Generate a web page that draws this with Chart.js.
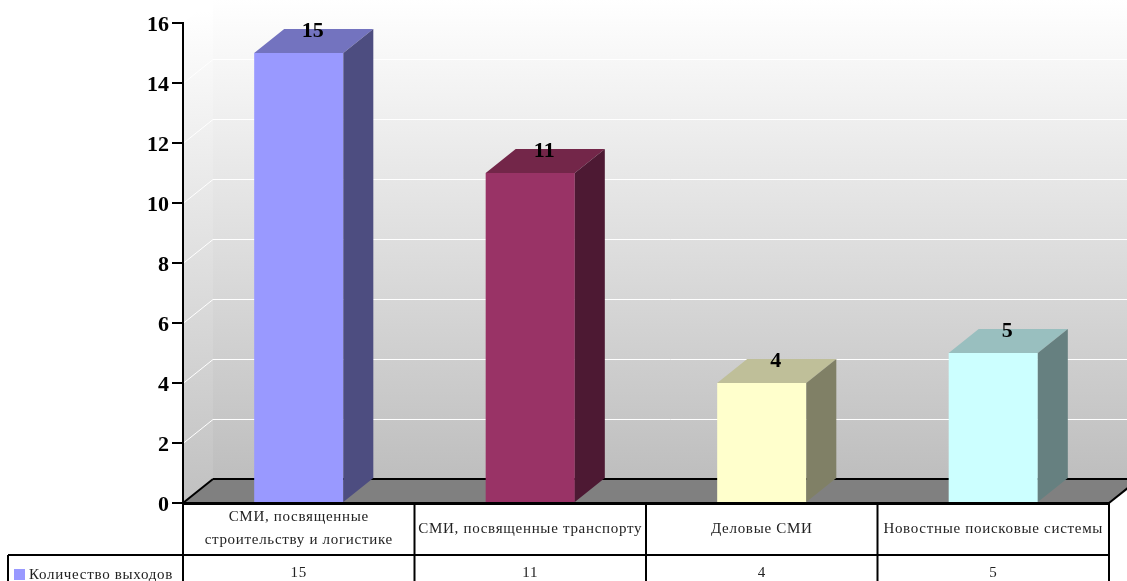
<!DOCTYPE html>
<html>
<head>
<meta charset="utf-8">
<style>
    html, body { margin: 0; padding: 0; background: #fff; overflow: hidden; }
    canvas { display: block; }
</style>
<script src="https://cdn.jsdelivr.net/npm/chart.js@4"></script>
</head>
<body>
<canvas id="mediaChart" width="1127" height="581"></canvas>
<script>
const categories = ['СМИ, посвященные строительству и логистике', 'СМИ, посвященные транспорту', 'Деловые СМИ', 'Новостные поисковые системы'];
const categoryLines = [['СМИ, посвященные', 'строительству и логистике'], ['СМИ, посвященные транспорту'], ['Деловые СМИ'], ['Новостные поисковые системы']];
const seriesName = 'Количество выходов';
const outputs = [15, 11, 4, 5];
const yTicks = [0, 2, 4, 6, 8, 10, 12, 14, 16];

const frontColors = ['#9999FF', '#993366', '#FFFFCC', '#CCFFFF'];
const topColors = ['#7373BF', '#732649', '#BFBF99', '#99BFBF'];
const sideColors = ['#4D4D80', '#4D1933', '#808066', '#668080'];

const DEPTH_X = 30;
const DEPTH_Y = 24;
const TABLE_FONT = '15px "Liberation Serif"';
const BOLD_FONT = 'bold 22px "Liberation Serif"';

function polygon(ctx, points, fill) {
    ctx.beginPath();
    points.forEach((p, i) => i ? ctx.lineTo(p[0], p[1]) : ctx.moveTo(p[0], p[1]));
    ctx.closePath();
    ctx.fillStyle = fill;
    ctx.fill();
}

function line(ctx, x1, y1, x2, y2, color, width) {
    ctx.beginPath();
    ctx.moveTo(x1, y1);
    ctx.lineTo(x2, y2);
    ctx.strokeStyle = color;
    ctx.lineWidth = width;
    ctx.stroke();
}

// back wall, side wall and floor behind the bars and the axis
const wallsPlugin = {
    id: 'walls',
    beforeDraw(chart) {
        const { ctx, chartArea: a, scales: { y } } = chart;
        const topY = a.top - DEPTH_Y;
        const floorY = a.bottom - DEPTH_Y;
        const wall = ctx.createLinearGradient(0, topY, 0, floorY);
        wall.addColorStop(0, '#FFFFFF');
        wall.addColorStop(1, '#BEBEBE');
        const side = ctx.createLinearGradient(0, a.top - DEPTH_Y / 2, 0, a.bottom - DEPTH_Y / 2);
        side.addColorStop(0, '#FFFFFF');
        side.addColorStop(1, '#C2C2C2');
        ctx.save();
        polygon(ctx, [[a.left + DEPTH_X, topY], [a.right + DEPTH_X, topY], [a.right + DEPTH_X, floorY], [a.left + DEPTH_X, floorY]], wall);
        polygon(ctx, [[a.left, a.top], [a.left + DEPTH_X, topY], [a.left + DEPTH_X, floorY], [a.left, a.bottom]], side);
        yTicks.slice(1, -1).forEach(v => {
            const py = Math.round(y.getPixelForValue(v)) + 0.5;
            line(ctx, a.left, py, a.left + DEPTH_X, py - DEPTH_Y, '#FFFFFF', 1);
            line(ctx, a.left + DEPTH_X, py - DEPTH_Y, a.right + DEPTH_X, py - DEPTH_Y, '#FFFFFF', 1);
        });
        polygon(ctx, [[a.left, a.bottom], [a.left + DEPTH_X, floorY], [a.right + DEPTH_X, floorY], [a.right, a.bottom]], '#808080');
        line(ctx, a.left, a.bottom, a.left + DEPTH_X, floorY, '#000', 2);
        line(ctx, a.left + DEPTH_X, floorY, a.right + DEPTH_X, floorY, '#000', 2);
        line(ctx, a.right, a.bottom, a.right + DEPTH_X, floorY, '#000', 2);
        ctx.restore();
    }
};

// top and side faces of every bar, value on the back edge
const barsPlugin = {
    id: 'bars3d',
    afterDatasetsDraw(chart) {
        const { ctx } = chart;
        ctx.save();
        chart.getDatasetMeta(0).data.forEach((bar, i) => {
            const left = bar.x - bar.width / 2;
            const right = bar.x + bar.width / 2;
            polygon(ctx, [[left, bar.y], [left + DEPTH_X, bar.y - DEPTH_Y], [right + DEPTH_X, bar.y - DEPTH_Y], [right, bar.y]], topColors[i]);
            polygon(ctx, [[right, bar.y], [right + DEPTH_X, bar.y - DEPTH_Y], [right + DEPTH_X, bar.base - DEPTH_Y], [right, bar.base]], sideColors[i]);
            ctx.font = BOLD_FONT;
            ctx.fillStyle = '#000';
            ctx.textAlign = 'center';
            ctx.textBaseline = 'middle';
            ctx.fillText(String(outputs[i]), bar.x + DEPTH_X / 2 - 1, bar.y - DEPTH_Y + 2);
        });
        ctx.restore();
    }
};

// data table under the axis
const tablePlugin = {
    id: 'dataTable',
    afterDraw(chart) {
        const { ctx, chartArea: a, scales: { x } } = chart;
        const colWidth = (a.right - a.left) / categories.length;
        const rowLine = 555;
        const legendLeft = 8;
        const bottom = chart.height;
        ctx.save();
        line(ctx, a.left - 1, a.bottom + 0.5, a.right + 1, a.bottom + 0.5, '#000', 3);
        line(ctx, legendLeft, rowLine, a.right + 1, rowLine, '#000', 2);
        line(ctx, legendLeft, rowLine, legendLeft, bottom, '#000', 2);
        for (let i = 0; i <= categories.length; i++) {
            const cx = a.left + colWidth * i;
            line(ctx, cx, a.bottom, cx, bottom, '#000', 2);
        }
        ctx.font = TABLE_FONT;
        ctx.letterSpacing = '0.7px';
        ctx.fillStyle = '#222';
        ctx.textBaseline = 'middle';
        ctx.textAlign = 'center';
        categoryLines.forEach((lines, i) => {
            const cx = x.getPixelForValue(i);
            const startY = 529 - (lines.length - 1) * 11.5;
            lines.forEach((text, n) => ctx.fillText(text, cx, startY + n * 23));
            ctx.fillText(String(outputs[i]), cx, 573);
        });
        ctx.textAlign = 'left';
        ctx.fillText(seriesName, 29, 575);
        ctx.fillStyle = frontColors[0];
        ctx.fillRect(14, 569, 11, 11);
        ctx.restore();
    }
};

new Chart(document.getElementById('mediaChart'), {
    type: 'bar',
    data: {
        labels: categories,
        datasets: [{
            label: seriesName,
            data: outputs,
            backgroundColor: frontColors,
            borderWidth: 0,
            barPercentage: 0.385,
            categoryPercentage: 1
        }]
    },
    options: {
        responsive: false,
        animation: false,
        layout: { padding: { top: 23, right: 18, left: 0, bottom: 0 } },
        plugins: {
            legend: { display: false },
            tooltip: { enabled: false }
        },
        scales: {
            x: {
                grid: { display: false },
                border: { display: false },
                ticks: { display: false },
                afterFit: scale => { scale.height = 78; }
            },
            y: {
                min: 0,
                max: 16,
                afterFit: scale => { scale.width = 183; },
                afterBuildTicks: scale => { scale.ticks = yTicks.map(v => ({ value: v })); },
                grid: { drawOnChartArea: false, drawTicks: true, tickLength: 11, color: '#000', lineWidth: 2 },
                border: { display: true, color: '#000', width: 2 },
                ticks: {
                    padding: 3,
                    labelOffset: 2,
                    color: '#000',
                    font: { family: 'Liberation Serif', size: 22, weight: 'bold' }
                }
            }
        }
    },
    plugins: [wallsPlugin, barsPlugin, tablePlugin]
});
</script>
</body>
</html>
